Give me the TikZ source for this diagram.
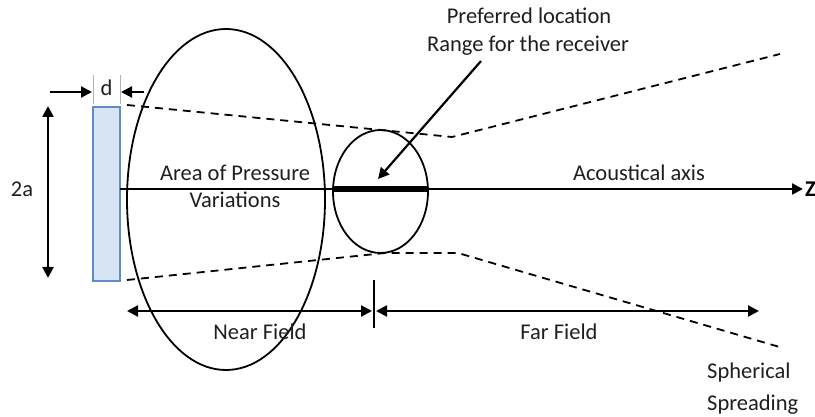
\documentclass[tikz,border=0pt]{standalone}
\usepackage{fontspec}
\setmainfont{Carlito}
\usetikzlibrary{arrows.meta,shapes.geometric}
\definecolor{plateFill}{HTML}{D6E4F4}
\definecolor{plateEdge}{HTML}{5F8CC2}
\tikzset{
  lbl/.style={font=\fontsize{22.5}{27}\selectfont, text=black!88, inner sep=0pt, anchor=base},
  arr/.style={line width=2.2pt, -{Triangle[length=11pt,width=11pt]}},
  dbl/.style={line width=2.2pt, {Triangle[length=11pt,width=11pt]}-{Triangle[length=11pt,width=11pt]}},
  dashline/.style={line width=1.8pt, dash pattern=on 8pt off 6pt},
  ell/.style={draw, ellipse, line width=1.8pt, inner sep=0pt}
}
\begin{document}
\begin{tikzpicture}[x=1pt,y=-1pt]
\useasboundingbox (0,0) rectangle (815,417);
% transducer plate
\node[draw=plateEdge, fill=plateFill, line width=1.5pt, minimum width=27pt, minimum height=174pt, inner sep=0pt] (plate) at (106.5,194) {};
% thickness dimension
\coordinate (g1a) at (93,75); \coordinate (g1b) at (93,104);
\coordinate (g2a) at (120,75); \coordinate (g2b) at (120,104);
\draw[gray!60, line width=1pt] (g1a) -- (g1b) (g2a) -- (g2b);
\node[lbl] (d) at (106.5,96) {d};
\coordinate (dl0) at (50,92); \coordinate (dl1) at (92,92);
\coordinate (dr0) at (144,92); \coordinate (dr1) at (121,92);
\draw[arr] (dl0) -- (dl1);
\draw[arr] (dr0) -- (dr1);
% 2a dimension
\coordinate (h0) at (48,106); \coordinate (h1) at (48,278);
\draw[dbl] (h0) -- (h1);
\node[lbl] (twoa) at (22,197) {2a};
% ellipses
\node[ell, minimum width=198pt, minimum height=341pt] (big) at (226,199.5) {};
\node[ell, minimum width=95pt, minimum height=123pt] (small) at (380.5,191.5) {};
% dashed beam edges
\coordinate (u0) at (127,105); \coordinate (u1) at (452,137); \coordinate (u2) at (780,54);
\coordinate (l0) at (127,280); \coordinate (l1) at (385,253); \coordinate (l2) at (458,253); \coordinate (l3) at (783,348);
\draw[dashline] (u0) -- (u1) -- (u2);
\draw[dashline] (l0) -- (l1) -- (l2) -- (l3);
% acoustical axis
\coordinate (ax0) at (120,189); \coordinate (ax1) at (803,189);
\draw[arr] (ax0) -- (ax1);
\node[font=\fontsize{22.5}{27}\selectfont\bfseries, inner sep=0pt, anchor=west] (z) at (805,189) {Z};
\coordinate (bar0) at (333,189); \coordinate (bar1) at (428,189);
\draw[line width=6pt] (bar0) -- (bar1);
% labels
\node[lbl] (pref1) at (529,24) {Preferred location};
\node[lbl] (pref2) at (528,52) {Range for the receiver};
\coordinate (pa0) at (481,61); \coordinate (pa1) at (378,179);
\draw[arr] (pa0) -- (pa1);
\node[lbl] (area1) at (235,181) {Area of Pressure};
\node[lbl] (area2) at (235,208) {Variations};
\node[lbl] (acax) at (639,181) {Acoustical axis};
% near / far field
\coordinate (nf0) at (127,311); \coordinate (nf1) at (372,311);
\coordinate (ff0) at (376,311); \coordinate (ff1) at (759,311);
\coordinate (t0) at (374,280); \coordinate (t1) at (374,328);
\draw[dbl] (nf0) -- (nf1);
\draw[dbl] (ff0) -- (ff1);
\draw[line width=2.2pt] (t0) -- (t1);
\node[lbl] (near) at (260,339) {Near Field};
\node[lbl] (far) at (559,339) {Far Field};
\node[lbl, anchor=base west] (sph1) at (707,378) {Spherical};
\node[lbl, anchor=base west] (sph2) at (707,410) {Spreading};
\end{tikzpicture}
\end{document}
